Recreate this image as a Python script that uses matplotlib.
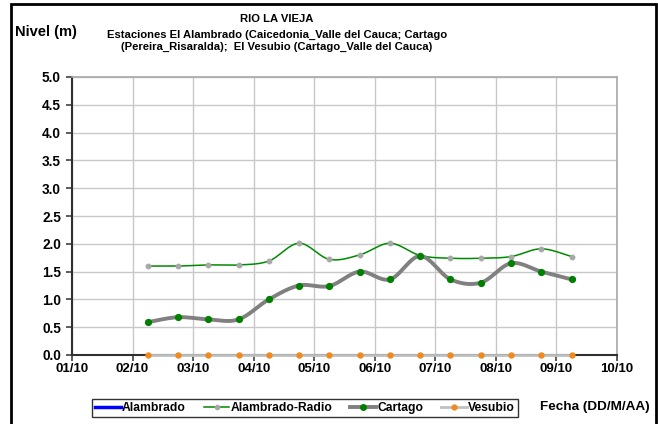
import matplotlib.pyplot as plt
import matplotlib.dates as mdates
from matplotlib.patches import Rectangle
from matplotlib.lines import Line2D
import numpy as np
import pandas as pd

plt.rcParams['font.family'] = ['Liberation Sans', 'DejaVu Sans']
plt.rcParams['font.weight'] = 'bold'

# lecturas cada 12 horas
fechas = pd.to_datetime([
    "2011-10-02 06:00", "2011-10-02 18:00", "2011-10-03 06:00", "2011-10-03 18:00",
    "2011-10-04 06:00", "2011-10-04 18:00", "2011-10-05 06:00", "2011-10-05 18:00",
    "2011-10-06 06:00", "2011-10-06 18:00", "2011-10-07 06:00", "2011-10-07 18:00",
    "2011-10-08 06:00", "2011-10-08 18:00", "2011-10-09 06:00",
])
alambrado = [np.nan] * 15
alambrado_radio = [1.60, 1.60, 1.62, 1.62, 1.69, 2.01, 1.72, 1.80, 2.01,
                   1.79, 1.74, 1.74, 1.77, 1.91, 1.77]
cartago = [0.59, 0.68, 0.64, 0.64, 1.00, 1.25, 1.24, 1.50, 1.36,
           1.78, 1.36, 1.30, 1.65, 1.50, 1.36]
vesubio = [0.0] * 15

ticks_x = pd.date_range("2011-10-01", "2011-10-10", freq="D")
ticks_y = [0.0, 0.5, 1.0, 1.5, 2.0, 2.5, 3.0, 3.5, 4.0, 4.5, 5.0]


def suavizar(x, y, n=20):
    # curva tipo Excel: bezier cubica con tangentes de Catmull-Rom
    x = np.asarray(x, float)
    y = np.asarray(y, float)
    xs, ys = [], []
    for i in range(len(x) - 1):
        i0 = max(i - 1, 0)
        i3 = min(i + 2, len(x) - 1)
        p0 = np.array([x[i0], y[i0]])
        p1 = np.array([x[i], y[i]])
        p2 = np.array([x[i + 1], y[i + 1]])
        p3 = np.array([x[i3], y[i3]])
        c1 = p1 + (p2 - p0) / 6
        c2 = p2 - (p3 - p1) / 6
        t = np.linspace(0, 1, n)[:, None]
        pts = ((1 - t) ** 3 * p1 + 3 * (1 - t) ** 2 * t * c1
               + 3 * (1 - t) * t ** 2 * c2 + t ** 3 * p2)
        xs.extend(pts[:, 0])
        ys.extend(pts[:, 1])
    return xs, ys


fig = plt.figure(figsize=(6.58, 4.24), dpi=100)
ax = fig.add_axes([72 / 658, 1 - 355 / 424, 545 / 658, 278 / 424])

xn = mdates.date2num(fechas)

# Vesubio
ax.plot(xn, vesubio, color='#c0c0c0', lw=2, zorder=3, clip_on=False)
ax.plot(xn, vesubio, 'o', color='#f08a1c', ms=3.6, zorder=4, clip_on=False)
# Alambrado (sin datos)
ax.plot(xn, alambrado, color='#0000ff', lw=2.5)
# Alambrado-Radio
sx, sy = suavizar(xn, alambrado_radio)
ax.plot(sx, sy, color='#008a00', lw=1.1, zorder=3)
ax.plot(xn, alambrado_radio, 'o', color='#a8a8a8', ms=3.2, zorder=4)
# Cartago
sx, sy = suavizar(xn, cartago)
ax.plot(sx, sy, color='#808080', lw=2.8, zorder=3)
ax.plot(xn, cartago, 'o', color='#008000', ms=4.2, zorder=4)

ax.set_xlim(mdates.date2num(ticks_x[0]), mdates.date2num(ticks_x[-1]))
ax.set_ylim(0, 5)
ax.set_xticks(mdates.date2num(ticks_x))
ax.set_xticklabels([d.strftime("%d/%m")[:2] + "/10" for d in ticks_x])
ax.set_yticks(ticks_y)
ax.set_yticklabels([f"{v:.1f}" for v in ticks_y])
ax.tick_params(labelsize=9.5, length=4, width=1.2, color='#404040', pad=2)
ax.tick_params(axis='y', labelsize=9.8, pad=4)
ax.grid(True, color='#c8c8c8', lw=1)
ax.set_axisbelow(True)

for lado in ('left', 'bottom'):
    ax.spines[lado].set_color('#303030')
    ax.spines[lado].set_linewidth(1.5)
for lado in ('right', 'top'):
    ax.spines[lado].set_color('#a8a8a8')
    ax.spines[lado].set_linewidth(1.2)

fig.text(277 / 658, 1 - 19 / 424, "RIO LA VIEJA", ha='center', va='center', fontsize=8.1)
fig.text(277 / 658, 1 - 41 / 424,
         "Estaciones El Alambrado (Caicedonia_Valle del Cauca; Cartago\n"
         "(Pereira_Risaralda);  El Vesubio (Cartago_Valle del Cauca)",
         ha='center', va='center', fontsize=8.1, linespacing=1.25)
fig.text(15 / 658, 1 - 32 / 424, "Nivel (m)", ha='left', va='center', fontsize=10.5)
fig.text(650 / 658, 1 - 407 / 424, "Fecha (DD/M/AA)", ha='right', va='center', fontsize=9.7)

handles = [
    Line2D([], [], color='#0000ff', lw=2.5),
    Line2D([], [], color='#008a00', lw=1.1, marker='o', mfc='#a8a8a8', mec='#a8a8a8', ms=3),
    Line2D([], [], color='#808080', lw=2.8, marker='o', mfc='#008000', mec='#008000', ms=4),
    Line2D([], [], color='#c0c0c0', lw=2, marker='o', mfc='#f08a1c', mec='#f08a1c', ms=3.5),
]
leg = fig.legend(handles, ["Alambrado", "Alambrado-Radio", "Cartago", "Vesubio"],
                 loc='center', bbox_to_anchor=(305 / 658, 1 - 408 / 424), ncol=4,
                 fontsize=8.7, frameon=True, fancybox=False, handlelength=2.1,
                 handletextpad=0.1, columnspacing=1.5, borderpad=0.25)
leg.get_frame().set_edgecolor('black')
leg.get_frame().set_linewidth(1)

fig.patches.append(Rectangle((11 / 658, -0.05), 645 / 658, 0.05 + 1 - 4 / 424,
                             transform=fig.transFigure, fill=False,
                             edgecolor='black', lw=2))

fig.savefig("out.png", dpi=100)
